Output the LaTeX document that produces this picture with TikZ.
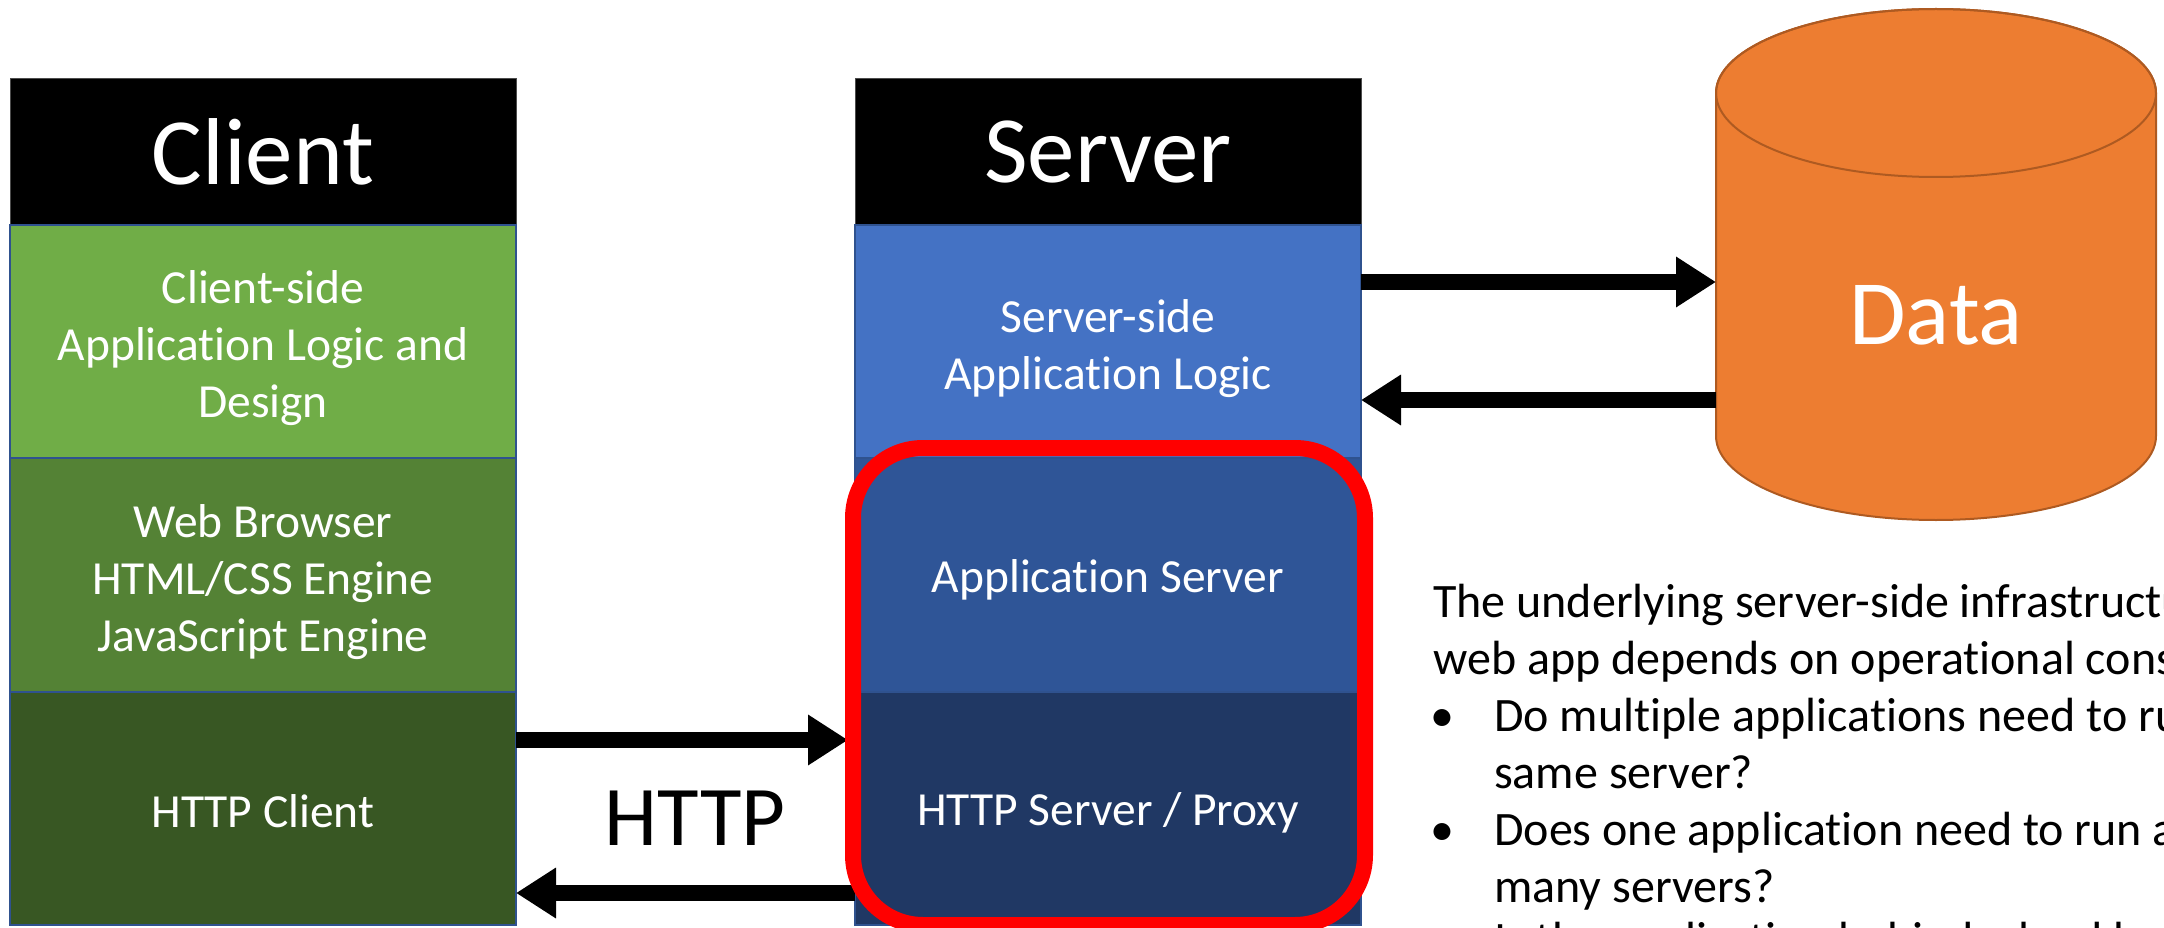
\documentclass[tikz,border=0pt]{standalone}
\usepackage{fontspec}
\setmainfont{Carlito}[Ligatures={NoCommon,NoContextual}]
\usetikzlibrary{arrows.meta}

\definecolor{greenA}{HTML}{70AD47}
\definecolor{greenB}{HTML}{548235}
\definecolor{greenC}{HTML}{385723}
\definecolor{blueA}{HTML}{4472C4}
\definecolor{blueB}{HTML}{2F5597}
\definecolor{blueC}{HTML}{203864}
\definecolor{edgeblue}{HTML}{2F528F}
\definecolor{dataorange}{HTML}{ED7D31}
\definecolor{dataedge}{HTML}{AE5A21}
\definecolor{framered}{HTML}{FF0000}

\pgfdeclarelayer{front}
\pgfsetlayers{main,front}

\begin{document}
\begin{tikzpicture}[x=1pt,y=-1pt,
  layer/.style={draw=edgeblue, line width=2pt, inner sep=0pt, outer sep=0pt,
    minimum width=506pt},
  boxtext/.style={inner sep=0pt, text=white, align=center,
    font=\fontsize{47.5}{57}\selectfont},
  headbox/.style={fill=black, draw=black!70, line width=1pt, inner sep=0pt,
    outer sep=0pt, minimum width=506pt, minimum height=146pt, text=white,
    font=\fontsize{95}{110}\selectfont},
  bigarrow/.style={line width=16pt, -{Triangle[length=40pt,width=48pt]}},
  note/.style={anchor=base west, inner sep=0pt, font=\fontsize{48}{57}\selectfont},
]
\useasboundingbox (0,0) rectangle (2164,928);

% client stack
\node[headbox, anchor=north west] (chead) at (10,79) {Client};
\node[layer, fill=greenA, minimum height=233pt, anchor=north] (clogic) at (chead.south) {};
\node[layer, fill=greenB, minimum height=234pt, anchor=north] (cbrowser) at (clogic.south) {};
\node[layer, fill=greenC, minimum height=233pt, anchor=north] (chttp) at (cbrowser.south) {};
\node[boxtext] (tclogic) at ([yshift=-7pt]clogic.center)
  {Client-side\\Application Logic and\\Design};
\node[boxtext] (tcbrowser) at ([yshift=-7pt]cbrowser.center)
  {Web Browser\\HTML/CSS Engine\\JavaScript Engine};
\node[boxtext] (tchttp) at ([yshift=-3pt]chttp.center) {HTTP Client};

% server stack
\node[headbox, anchor=north west] (shead) at (855,79) {Server};
\node[layer, fill=blueA, minimum height=233pt, anchor=north] (slogic) at (shead.south) {};
\node[layer, fill=blueB, minimum height=234pt, anchor=north] (sapp) at (slogic.south) {};
\node[layer, fill=blueC, minimum height=233pt, anchor=north] (shttp) at (sapp.south) {};
\node[boxtext] (tslogic) at ([yshift=-7pt]slogic.center)
  {Server-side\\Application Logic};
\node[boxtext] (tsapp) at ([yshift=-5pt]sapp.center) {Application Server};
\node[boxtext] (tshttp) at ([yshift=-4pt]shttp.center) {HTTP Server / Proxy};

% highlight around the server infrastructure
\begin{pgfonlayer}{front}
\node[draw=framered, line width=16pt, rounded corners=70pt, inner sep=0pt,
  minimum width=512pt, minimum height=477pt] (frame) at (1109,686.5) {};
\end{pgfonlayer}

% data store
\filldraw[fill=dataorange, draw=dataedge, line width=2pt]
  (1716,93) -- (1716,436)
  arc[start angle=180, end angle=0, x radius=220, y radius=84]
  -- (2156,93)
  arc[start angle=0, end angle=-180, x radius=220, y radius=84] -- cycle;
\draw[dataedge, line width=2pt] (1936,93) ellipse [x radius=220, y radius=84];
\node[minimum width=440pt, minimum height=200pt, inner sep=0pt, outer sep=0pt,
  text=white, font=\fontsize{92}{100}\selectfont] (data) at (1936,315) {Data};

% request / response flows
\draw[bigarrow] (chttp.east |- 0,740) -- ([xshift=3pt]frame.west |- 0,740);
\draw[bigarrow] (shttp.west |- 0,893) -- (chttp.east |- 0,893);
\draw[bigarrow] (slogic.east |- 0,282) -- (data.west |- 0,282);
\draw[bigarrow] (data.west |- 0,400) -- (slogic.east |- 0,400);

\node[inner sep=0pt, font=\fontsize{85}{100}\selectfont] (http) at (695,818) {HTTP};

% notes
\node[note] (n1) at (1433,617) {The underlying server-side infrastructure of a};
\node[note] (n2) at (1433,674) {web app depends on operational constraints:};
\node[note] (b1) at (1430,731) {•};
\node[note] (n3) at (1494,731) {Do multiple applications need to run on the};
\node[note] (n4) at (1494,788) {same server?};
\node[note] (b2) at (1430,845) {•};
\node[note] (n5) at (1494,845) {Does one application need to run across};
\node[note] (n6) at (1494,902) {many servers?};
\node[note] (b3) at (1430,955) {•};
\node[note] (n7) at (1494,955) {Is the application behind a load balancer?};
\end{tikzpicture}
\end{document}
